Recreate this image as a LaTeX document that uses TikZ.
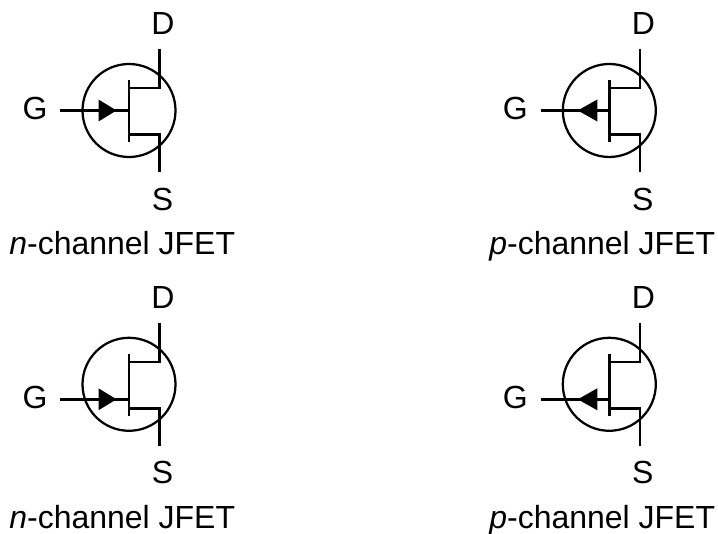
\documentclass[tikz,border=0pt]{standalone}
\usepackage{fontspec}
\setmainfont{Liberation Sans}
\tikzset{
	lead/.style={line width=0.5mm},
	pin/.style={inner sep=0pt, font=\fontsize{18.2}{22}\selectfont},
	caption/.style={inner sep=0pt, anchor=base west, font=\fontsize{18.2}{22}\selectfont}
}
% name, centre x, centre y, gate height, triangle tip x, triangle base x
\def\jfet[#1](#2,#3)(#4)(#5:#6){
	\coordinate (#1c) at (#2, #3);
	\coordinate (#1d) at (#2+0.61, #3+1.23);
	\coordinate (#1e) at (#2+0.61, #3+0.45);
	\coordinate (#1f) at (#2, #3+0.45);
	\coordinate (#1s) at (#2+0.61, #3-1.24);
	\coordinate (#1r) at (#2+0.61, #3-0.48);
	\coordinate (#1q) at (#2, #3-0.48);
	\coordinate (#1t) at (#2, #3+0.61);
	\coordinate (#1b) at (#2, #3-0.63);
	\coordinate (#1g) at (#2-1.374, #3+#4);
	\coordinate (#1h) at (#2, #3+#4);
	\draw[line width=0.45mm] (#1c) circle (0.93);
	\draw[lead] (#1d) -- (#1e) -- (#1f);
	\draw[lead] (#1s) -- (#1r) -- (#1q);
	\draw[lead] (#1t) -- (#1b);
	\draw[lead] (#1g) -- (#1h);
	\fill (#2+#5, #3+#4) -- (#2+#6, #3+#4+0.22) -- (#2+#6, #3+#4-0.22) -- cycle;
	\node[pin] (#1D) at (#2+0.68, #3+1.73) {D};
	\node[pin] (#1S) at (#2+0.67, #3-1.77) {S};
	\node[pin] (#1G) at (#2-1.88, #3+#4+0.04) {G};
}

\begin{document}
\begin{tikzpicture}
	\useasboundingbox (0, 0) rectangle (14.36, 10.66);
	
	\jfet[a](2.58, 8.45)(0)(-0.25:-0.61);
	\node[caption] (acap) at (0.18, 5.57) {\textit{n}-channel JFET};
	
	\jfet[b](12.186, 8.45)(0)(-0.63:-0.24);
	\node[caption] (bcap) at (9.78, 5.57) {\textit{p}-channel JFET};
	
	\jfet[c](2.58, 2.974)(-0.3)(-0.25:-0.61);
	\node[caption] (ccap) at (0.18, 0.1) {\textit{n}-channel JFET};
	
	\jfet[d](12.186, 2.974)(-0.3)(-0.63:-0.24);
	\node[caption] (dcap) at (9.78, 0.1) {\textit{p}-channel JFET};
\end{tikzpicture}
\end{document}
